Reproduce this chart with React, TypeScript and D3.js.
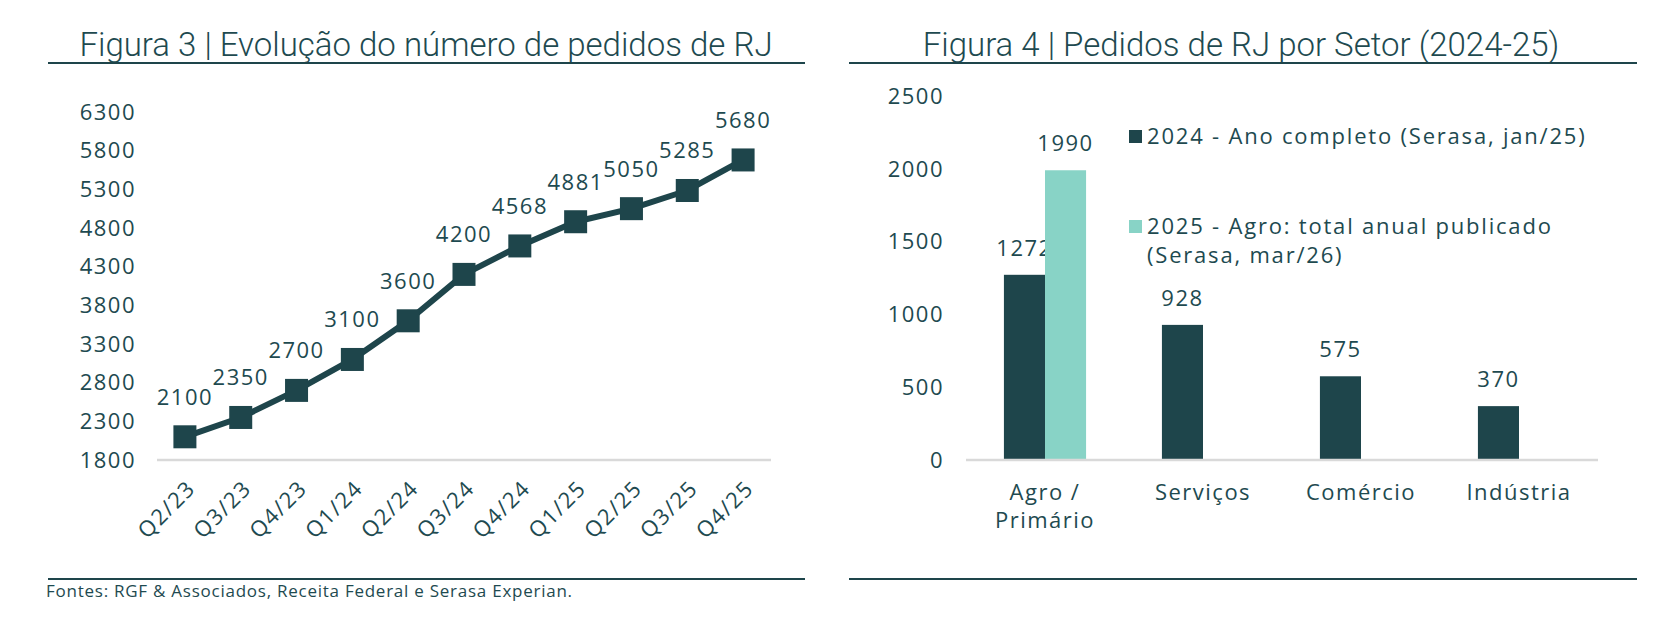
import React from 'react';
import * as d3 from 'd3';

// figura 3 - evolução trimestral
const quarters = ['Q2/23', 'Q3/23', 'Q4/23', 'Q1/24', 'Q2/24', 'Q3/24', 'Q4/24', 'Q1/25', 'Q2/25', 'Q3/25', 'Q4/25'];
const pedidos = [2100, 2350, 2700, 3100, 3600, 4200, 4568, 4881, 5050, 5285, 5680];
const lineTicks = [1800, 2300, 2800, 3300, 3800, 4300, 4800, 5300, 5800, 6300];

// figura 4 - por setor
const sectors = ['Agro /\nPrimário', 'Serviços', 'Comércio', 'Indústria'];
const seriesNames = ['2024 - Ano completo (Serasa, jan/25)', '2025 - Agro: total anual publicado\n(Serasa, mar/26)'];
const values2024 = [1272, 928, 575, 370];
const values2025 = [1990, null, null, null];
const barTicks = [0, 500, 1000, 1500, 2000, 2500];

const DARK = '#1e454b';
const LIGHT = '#88d3c6';
const TEXT = '#1e4a50';
const AXIS = '#d9d9d9';
const FONT = "'Open Sans', sans-serif";
const TITLE_FONT = "Roboto, sans-serif";

// shared text style, the original font is wider than Open Sans
const txt = { fontFamily: FONT, fontSize: 22, fill: TEXT, letterSpacing: 1.5 };

function LineChart() {
  const x = d3.scalePoint().domain(quarters).range([157, 771]).padding(0.5);
  const y = d3.scaleLinear().domain([1800, 6300]).range([460, 112]);
  const line = d3.line<number>()
    .x((d, i) => x(quarters[i]))
    .y(d => y(d));
  const sq = 23;

  return (
    <g>
      <text x={426} y={56} textAnchor="middle" fontFamily={TITLE_FONT} fontWeight={300} fontSize={33} fill={TEXT}>
        Figura 3 | Evolução do número de pedidos de RJ
      </text>
      <line x1={48} x2={805} y1={63} y2={63} stroke={DARK} strokeWidth={2} />

      {lineTicks.map(t => (
        <text key={t} x={136} y={y(t)} dy="0.35em" textAnchor="end" {...txt}>{t}</text>
      ))}
      <line x1={157} x2={771} y1={y(1800)} y2={y(1800)} stroke={AXIS} strokeWidth={2.5} />

      <path d={line(pedidos) || ''} fill="none" stroke={DARK} strokeWidth={6} strokeLinejoin="round" />
      {pedidos.map((v, i) => (
        <rect key={i} x={x(quarters[i]) - sq / 2} y={y(v) - sq / 2} width={sq} height={sq} fill={DARK} />
      ))}
      {pedidos.map((v, i) => (
        <text key={'l' + i} x={x(quarters[i])} y={y(v) - 32} textAnchor="middle" {...txt}>{v}</text>
      ))}

      {quarters.map(q => (
        <text key={q} transform={`translate(${x(q) + 1},${y(1800) + 19}) rotate(-45)`} textAnchor="end" dy="0.7em"
          {...txt}>{q}</text>
      ))}

      <line x1={48} x2={805} y1={579} y2={579} stroke={DARK} strokeWidth={2} />
      <text x={46} y={597} {...txt} fontSize={17} letterSpacing={0.75}>
        Fontes: RGF &amp; Associados, Receita Federal e Serasa Experian.
      </text>
    </g>
  );
}

function BarChart() {
  const x0 = d3.scaleBand().domain(sectors).range([966, 1598]).paddingInner(0.48).paddingOuter(0.24);
  const x1 = d3.scaleBand().domain(seriesNames).range([0, x0.bandwidth()]);
  const y = d3.scaleLinear().domain([0, 2500]).range([460, 96]);
  const color = d3.scaleOrdinal<string>().domain(seriesNames).range([DARK, LIGHT]);
  const rows = sectors.map((s, i) => ({ sector: s, vals: [values2024[i], values2025[i]] }));

  return (
    <g>
      <text x={1241} y={56} textAnchor="middle" fontFamily={TITLE_FONT} fontWeight={300} fontSize={33} fill={TEXT}>
        Figura 4 | Pedidos de RJ por Setor (2024-25)
      </text>
      <line x1={849} x2={1637} y1={63} y2={63} stroke={DARK} strokeWidth={2} />

      {barTicks.map(t => (
        <text key={t} x={944} y={y(t)} dy="0.35em" textAnchor="end" {...txt}>{t}</text>
      ))}

      {rows.map(r => (
        <g key={r.sector} transform={`translate(${x0(r.sector)},0)`}>
          {r.vals.map((v, j) => v == null ? null : (
            <g key={j}>
              <rect x={x1(seriesNames[j])} y={y(v)} width={x1.bandwidth()} height={y(0) - y(v)} fill={color(seriesNames[j])} />
              <text x={(x1(seriesNames[j]) || 0) + x1.bandwidth() / 2} y={y(v) - 19} textAnchor="middle" {...txt}>{v}</text>
            </g>
          ))}
        </g>
      ))}
      <line x1={966} x2={1598} y1={y(0)} y2={y(0)} stroke={AXIS} strokeWidth={2.5} />

      {sectors.map(s => (
        <text key={s} x={(x0(s) || 0) + x0.bandwidth() / 2} y={500} textAnchor="middle" {...txt}>
          {s.split('\n').map((ln, k) => (
            <tspan key={k} x={(x0(s) || 0) + x0.bandwidth() / 2} dy={k === 0 ? 0 : 28}>{ln}</tspan>
          ))}
        </text>
      ))}

      {seriesNames.map((name, i) => {
        const top = i === 0 ? 130 : 220;
        return (
          <g key={name}>
            <rect x={1129} y={top} width={13} height={13} fill={color(name)} />
            <text x={1147} y={top + 14} {...txt} letterSpacing={1.8}>
              {name.split('\n').map((ln, k) => (
                <tspan key={k} x={1147} dy={k === 0 ? 0 : 29}>{ln}</tspan>
              ))}
            </text>
          </g>
        );
      })}

      <line x1={849} x2={1637} y1={579} y2={579} stroke={DARK} strokeWidth={2} />
    </g>
  );
}

export default function App() {
  return (
    <svg width={1678} height={620} style={{ position: 'absolute', left: 0, top: 0, background: '#fff' }}>
      <rect width={1678} height={620} fill="#fff" />
      <LineChart />
      <BarChart />
    </svg>
  );
}
